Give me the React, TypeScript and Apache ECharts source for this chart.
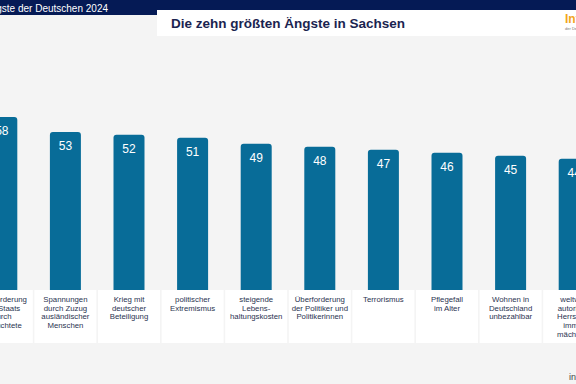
import React, { useEffect, useRef } from "react";
import * as echarts from "echarts";

const categories = [
  "Überforderung\ndes Staats\ndurch\nGeflüchtete",
  "Spannungen\ndurch Zuzug\nausländischer\nMenschen",
  "Krieg mit\ndeutscher\nBeteiligung",
  "politischer\nExtremismus",
  "steigende\nLebens-\nhaltungskosten",
  "Überforderung\nder Politiker und\nPolitikerinnen",
  "Terrorismus",
  "Pflegefall\nim Alter",
  "Wohnen in\nDeutschland\nunbezahlbar",
  "weltweit\nautoritäre\nHerrscher\nimmer\nmächtiger",
];
const values = [58, 53, 52, 51, 49, 48, 47, 46, 45, 44];

const FONT = "'Liberation Sans', Arial, sans-serif";
const OX = 32; // the canvas starts 32px left of the visible page

export default function App() {
  const ref = useRef<HTMLDivElement>(null);
  useEffect(() => {
    if (!ref.current) return;
    const chart = echarts.init(ref.current, undefined, { renderer: "svg" });
    chart.setOption({
      animation: false,
      backgroundColor: "#f4f4f4",
      textStyle: { fontFamily: FONT },
      grid: { left: 0, right: 0, top: 111, bottom: 94, containLabel: false },
      xAxis: {
        type: "category",
        data: categories,
        axisLine: { show: false },
        axisTick: { show: false },
        splitLine: { show: false },
        axisLabel: {
          interval: 0,
          margin: 0,
          backgroundColor: "#ffffff",
          width: 62,
          height: 48,
          padding: [5, 0, 0, 0],
          lineHeight: 8.7,
          fontSize: 7.8,
          color: "#2a3350",
          fontFamily: FONT,
          align: "center",
          verticalAlign: "top",
        },
      },
      yAxis: { type: "value", min: 0, max: 60, show: false, splitLine: { show: false } },
      series: [
        {
          type: "bar",
          data: values,
          barWidth: 31,
          itemStyle: { color: "#086c98", borderRadius: [3, 3, 0, 0] },
          label: {
            show: true,
            position: "insideTop",
            distance: 8,
            color: "#ffffff",
            fontSize: 12,
            fontFamily: FONT,
          },
        },
      ],
      graphic: [
        { type: "rect", shape: { x: 0, y: 0, width: 640, height: 15 }, style: { fill: "#051a55" } },
        { type: "rect", shape: { x: OX + 157, y: 10, width: 500, height: 26 }, style: { fill: "#ffffff" } },
        {
          type: "text",
          x: OX + 108,
          y: 8,
          style: {
            text: "Die größten Ängste der Deutschen 2024",
            fill: "#ffffff",
            font: `10px ${FONT}`,
            textAlign: "right",
            textVerticalAlign: "middle",
          },
        },
        {
          type: "text",
          x: OX + 171,
          y: 23.5,
          style: {
            text: "Die zehn größten Ängste in Sachsen",
            fill: "#1b2450",
            font: `bold 13.5px ${FONT}`,
            textAlign: "left",
            textVerticalAlign: "middle",
          },
        },
        {
          type: "text",
          x: OX + 565,
          y: 19,
          style: {
            text: "Info",
            fill: "#f3a51b",
            font: `bold 12px ${FONT}`,
            textAlign: "left",
            textVerticalAlign: "middle",
          },
        },
        {
          type: "text",
          x: OX + 565,
          y: 28,
          style: {
            text: "der Deutschen",
            fill: "#777777",
            font: `4px ${FONT}`,
            textAlign: "left",
            textVerticalAlign: "middle",
          },
        },
        {
          type: "text",
          x: OX + 569,
          y: 377,
          style: {
            text: "info",
            fill: "#444444",
            font: `9px ${FONT}`,
            textAlign: "left",
            textVerticalAlign: "middle",
          },
        },
      ],
    });
    return () => chart.dispose();
  }, []);
  return (
    <div
      ref={ref}
      style={{ position: "fixed", left: -OX, top: 0, width: 640, height: 384 }}
    />
  );
}
